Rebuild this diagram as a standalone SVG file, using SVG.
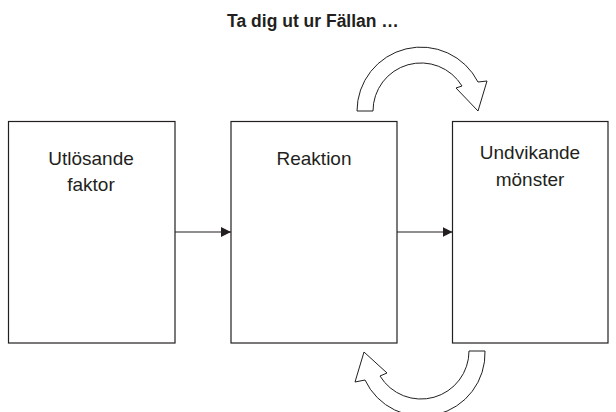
<svg xmlns="http://www.w3.org/2000/svg" width="616" height="412" viewBox="0 0 616 412">
<defs>
<style>
.box{fill:#fff;stroke:#231f20;stroke-width:1.2}
.lbl{font-family:"Liberation Sans",Arial,sans-serif;font-size:19px;fill:#231f20;text-anchor:middle}
.title{font-family:"Liberation Sans",Arial,sans-serif;font-size:17.5px;font-weight:bold;fill:#231f20;text-anchor:middle}
.conn{stroke:#231f20;stroke-width:1.2;fill:none}
.curve{fill:#fff;stroke:#231f20;stroke-width:1;stroke-linejoin:miter}
</style>
<marker id="ah" viewBox="0 0 10 10" refX="10" refY="5" markerWidth="10" markerHeight="10" markerUnits="userSpaceOnUse" orient="auto">
<path d="M0,0 L10,5 L0,10 Z" fill="#231f20"/>
</marker>
</defs>
<rect width="616" height="412" fill="#fff"/>
<text class="title" x="313" y="27">Ta dig ut ur Fällan …</text>
<g id="n1">
<rect class="box" x="8.5" y="121.5" width="166.5" height="221.5"/>
<text class="lbl" x="91" y="165">Utlösande</text>
<text class="lbl" x="91" y="191">faktor</text>
</g>
<g id="n2">
<rect class="box" x="231" y="121.5" width="166" height="221.5"/>
<text class="lbl" x="314" y="165">Reaktion</text>
</g>
<g id="n3">
<rect class="box" x="452.5" y="121.5" width="155.5" height="221.5"/>
<text class="lbl" x="530" y="159">Undvikande</text>
<text class="lbl" x="530" y="186">mönster</text>
</g>
<g id="connectors">
<line class="conn" x1="175" y1="232" x2="231" y2="232" marker-end="url(#ah)"/>
<line class="conn" x1="397" y1="232" x2="452.5" y2="232" marker-end="url(#ah)"/>
<path class="curve" d="M357,111 A64,64 0 0 1 478,82 L487,81 L478,111 L456,88 L462,86 A48,48 0 0 0 373,111 Z"/>
<path class="curve" d="M485,351 A63,63 0 0 1 365,380 L355,382 L364,352 L387,373 L380,376 A48,48 0 0 0 469,351 Z"/>
</g>
</svg>
